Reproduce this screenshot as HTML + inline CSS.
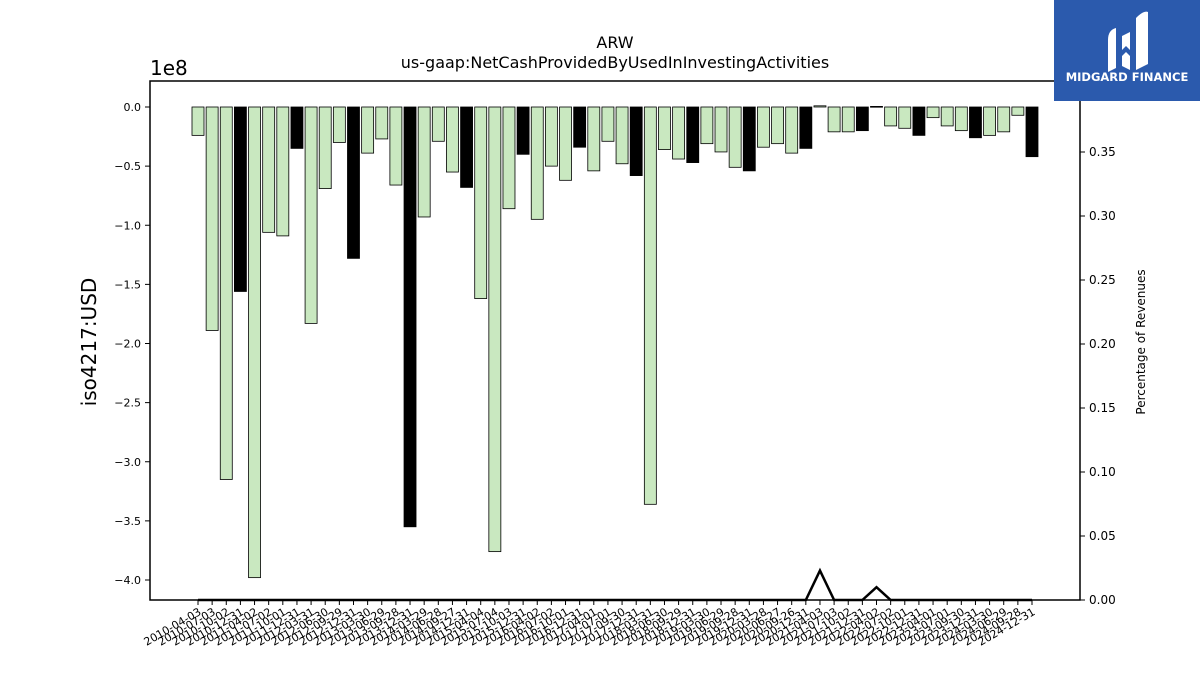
<!DOCTYPE html>
<html><head><meta charset="utf-8"><style>
html,body{margin:0;padding:0;background:#fff;width:1200px;height:675px;overflow:hidden}
text{font-family:"DejaVu Sans","Liberation Sans",sans-serif}
</style></head><body>
<svg id="chart" width="1200" height="675" xmlns="http://www.w3.org/2000/svg">
<rect width="1200" height="675" fill="#fff"/>
<text x="615" y="48" text-anchor="middle" font-size="16">ARW</text>
<text x="615" y="68" text-anchor="middle" font-size="16">us-gaap:NetCashProvidedByUsedInInvestingActivities</text>
<text x="150" y="75" font-size="20">1e8</text>
<text transform="translate(96,342) rotate(-90)" text-anchor="middle" font-size="20">iso4217:USD</text>
<text transform="translate(1145,342) rotate(-90)" text-anchor="middle" font-size="12">Percentage of Revenues</text>
<g id="bars"></g><g id="line"></g><g id="axes"></g>
<rect x="150" y="81" width="930" height="519" fill="none" stroke="#000" stroke-width="1.5"/>
<g>
<rect x="1054" y="0" width="146" height="101" fill="#2b5aad"/>
<path d="M1108 40 Q1108 30 1116 28 L1116 68 L1108 72 Z M1122 36 L1130 32 L1130 50 L1126 46 L1122 50 Z M1122 56 L1126 52 L1130 56 L1130 70 L1122 66 Z M1136 18 Q1144 10 1148 12 L1148 64 L1136 70 Z" fill="#fff"/>
<text x="1127" y="81" text-anchor="middle" font-size="11.5" font-weight="bold" fill="#fff">MIDGARD FINANCE</text>
</g>
</svg>
<script>
const categories=["2010-04-03","2010-07-03","2010-10-02","2010-12-31","2011-04-02","2011-07-02","2011-10-01","2011-12-31","2012-03-31","2012-06-30","2012-09-29","2012-12-31","2013-03-30","2013-06-29","2013-09-28","2013-12-31","2014-03-29","2014-06-28","2014-09-27","2014-12-31","2015-04-04","2015-07-04","2015-10-03","2015-12-31","2016-04-02","2016-07-02","2016-10-01","2016-12-31","2017-04-01","2017-07-01","2017-09-30","2017-12-31","2018-03-31","2018-06-30","2018-09-29","2018-12-31","2019-03-30","2019-06-29","2019-09-28","2019-12-31","2020-03-28","2020-06-27","2020-09-26","2020-12-31","2021-04-03","2021-07-03","2021-10-02","2021-12-31","2022-04-02","2022-07-02","2022-10-01","2022-12-31","2023-04-01","2023-07-01","2023-09-30","2023-12-31","2024-03-30","2024-06-29","2024-09-28","2024-12-31"];
const values=[-0.24,-1.89,-3.15,-1.56,-3.98,-1.06,-1.09,-0.35,-1.83,-0.69,-0.30,-1.28,-0.39,-0.27,-0.66,-3.55,-0.93,-0.29,-0.55,-0.68,-1.62,-3.76,-0.86,-0.40,-0.95,-0.50,-0.62,-0.34,-0.54,-0.29,-0.48,-0.58,-3.36,-0.36,-0.44,-0.47,-0.31,-0.38,-0.51,-0.54,-0.34,-0.31,-0.39,-0.35,0.01,-0.21,-0.21,-0.20,0.005,-0.16,-0.18,-0.24,-0.09,-0.16,-0.20,-0.26,-0.24,-0.21,-0.07,-0.42];
const annual=[0,0,0,1,0,0,0,1,0,0,0,1,0,0,0,1,0,0,0,1,0,0,0,1,0,0,0,1,0,0,0,1,0,0,0,1,0,0,0,1,0,0,0,1,0,0,0,1,0,0,0,1,0,0,0,1,0,0,0,1];
const pctRevenue=[0,0,0,0,0,0,0,0,0,0,0,0,0,0,0,0,0,0,0,0,0,0,0,0,0,0,0,0,0,0,0,0,0,0,0,0,0,0,0,0,0,0,0,0,0.023,0,0,0,0.01,0,0,0,0,0,0,0,0,0,0,0];
const leftTicks=[0.0,-0.5,-1.0,-1.5,-2.0,-2.5,-3.0,-3.5,-4.0];
const rightTicks=[0.00,0.05,0.10,0.15,0.20,0.25,0.30,0.35];
const NS="http://www.w3.org/2000/svg";
const x=i=>198+i*(1032-198)/(categories.length-1);
const y=v=>107-v*118.25;
const y2=v=>600-v*1280;
function mk(t,a,p){const e=document.createElementNS(NS,t);for(const k in a)e.setAttribute(k,a[k]);p.appendChild(e);return e;}
const bars=document.getElementById('bars'),axes=document.getElementById('axes'),line=document.getElementById('line');
values.forEach((v,i)=>{
 const r=mk('rect',{x:x(i)-6,y:Math.min(y(v),y(0)),width:12,height:Math.max(Math.abs(y(v)-y(0)),0.8),fill:annual[i]?'#000':'#c9e8c0',stroke:'#000','stroke-width':0.8},bars);
 
 
 const tk=mk('line',{x1:x(i),x2:x(i),y1:600,y2:605,stroke:'#000'},axes);
 
 
 const t=mk('text',{transform:`translate(${x(i)+4},${614}) rotate(-30)`,'text-anchor':'end','font-size':11},axes);
 t.textContent=categories[i];
 
 
});
const pts=pctRevenue.map((v,i)=>x(i)+','+y2(v)).join(' ');
const pl=mk('polyline',{points:pts,fill:'none',stroke:'#000','stroke-width':2.5},line);


leftTicks.forEach(v=>{
 mk('line',{x1:145,x2:150,y1:y(v),y2:y(v),stroke:'#000'},axes);
 const t=mk('text',{x:141,y:y(v)+4,'text-anchor':'end','font-size':11},axes);
 t.textContent=(v===0?'0.0':'\u2212'+Math.abs(v).toFixed(1));
 
 
});
rightTicks.forEach(v=>{
 mk('line',{x1:1080,x2:1085,y1:y2(v),y2:y2(v),stroke:'#000'},axes);
 const t=mk('text',{x:1089,y:y2(v)+4,'font-size':12},axes);
 t.textContent=v.toFixed(2);
 
 
});
</script>
</body></html>
